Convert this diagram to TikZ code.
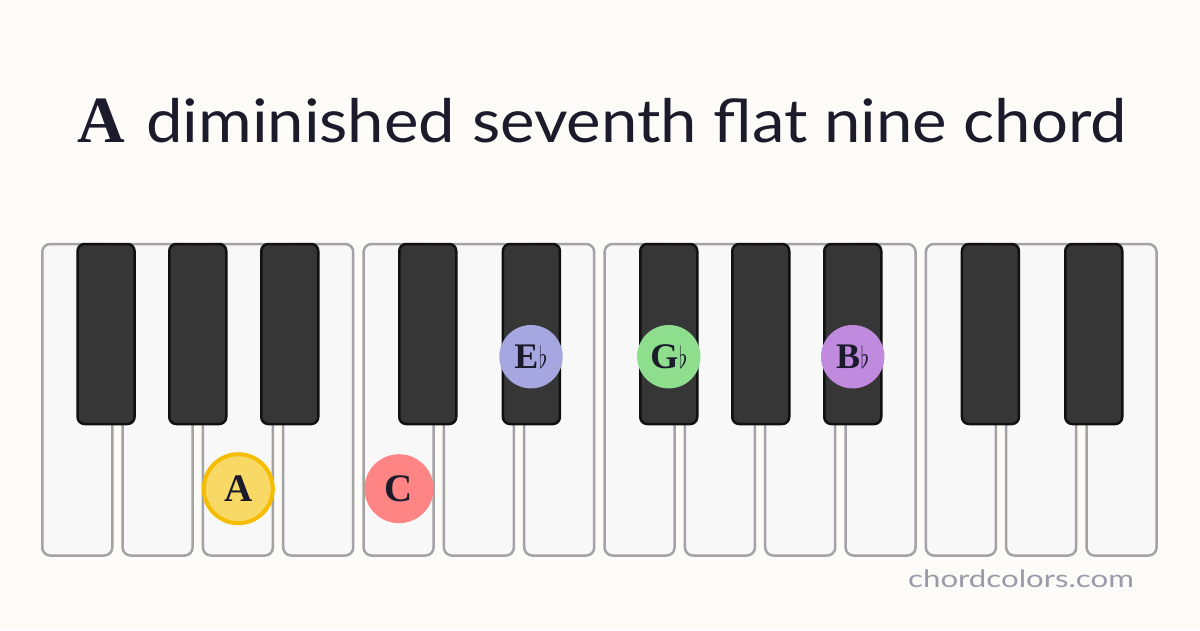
\documentclass[tikz,border=0pt]{standalone}
\usepackage{fontspec}
\setmainfont{Liberation Serif}
\newfontfamily\titlefont{Lato}
\definecolor{bg}{HTML}{FCFBF7}
\definecolor{wkfill}{HTML}{F8F8F8}
\definecolor{wkline}{HTML}{A3A3A3}
\definecolor{bkfill}{HTML}{363636}
\definecolor{bkline}{HTML}{111111}
\definecolor{ink}{HTML}{1B1B2B}
\definecolor{mark}{HTML}{9A9AAA}
\definecolor{yfill}{HTML}{F9D966}
\definecolor{yline}{HTML}{F5BC00}
\definecolor{cfill}{HTML}{FF8585}
\definecolor{efill}{HTML}{A6A6E1}
\definecolor{gfill}{HTML}{8EDE8E}
\definecolor{bfill}{HTML}{C08ADE}
\newcommand{\flatsign}{\hspace{0.5pt}{\fontsize{10}{10}\selectfont\scalebox{2.2}[3.05]{$\flat$}}}
\tikzset{
  whitekey/.style={fill=wkfill, draw=wkline, line width=2.5pt, rounded corners=8pt},
  blackkey/.style={fill=bkfill, draw=bkline, line width=2.5pt, rounded corners=7pt},
  wnote/.style={circle, inner sep=0pt, minimum size=69pt, text=ink,
    font=\fontsize{39}{39}\selectfont\bfseries},
  bnote/.style={circle, inner sep=0pt, minimum size=63.4pt, text=ink,
    font=\fontsize{36}{36}\selectfont\bfseries},
}
\begin{document}
\begin{tikzpicture}[x=1pt,y=-1pt]
\useasboundingbox (0,0) rectangle (1200,630);
\fill[bg] (0,0) rectangle (1200,630);
% title
\node[anchor=base west, inner sep=0pt, text=ink, font=\fontsize{66}{66}\selectfont\bfseries] (tA) at (77,142.3) {A};
\node[anchor=base west, inner sep=0pt, text=ink, font=\titlefont\fontsize{60}{60}\selectfont] (tt) at (146,142.3) {\scalebox{1.087}[1]{diminished seventh flat nine chord}};
% white keys
\foreach \i in {0,...,13} {
  \draw[whitekey] ({42.25+80.33*\i},244) rectangle ++(70,311.5);
}
% black keys
\foreach \l in {76.3,168,260,398,501.7,639,731,823,960.7,1064} {
  \draw[blackkey] (\l+1.25,244) rectangle ++(57,180);
}
% notes
\node[wnote, fill=yfill, draw=yline, line width=4pt] (nA) at (238.3,488.7) {A};
\node[wnote, fill=cfill] (nC) at (399,488.7) {C};
\node[bnote, fill=efill] (nE) at (531,356.7) {E\flatsign};
\node[bnote, fill=gfill] (nG) at (668.8,356.7) {G\flatsign};
\node[bnote, fill=bfill] (nB) at (852.7,356.7) {B\flatsign};
% watermark
\node[anchor=base west, inner sep=0pt, text=mark, font=\titlefont\fontsize{24}{24}\selectfont] (wm) at (908,587) {\scalebox{1.3}[1]{chordcolors.com}};
\end{tikzpicture}
\end{document}
